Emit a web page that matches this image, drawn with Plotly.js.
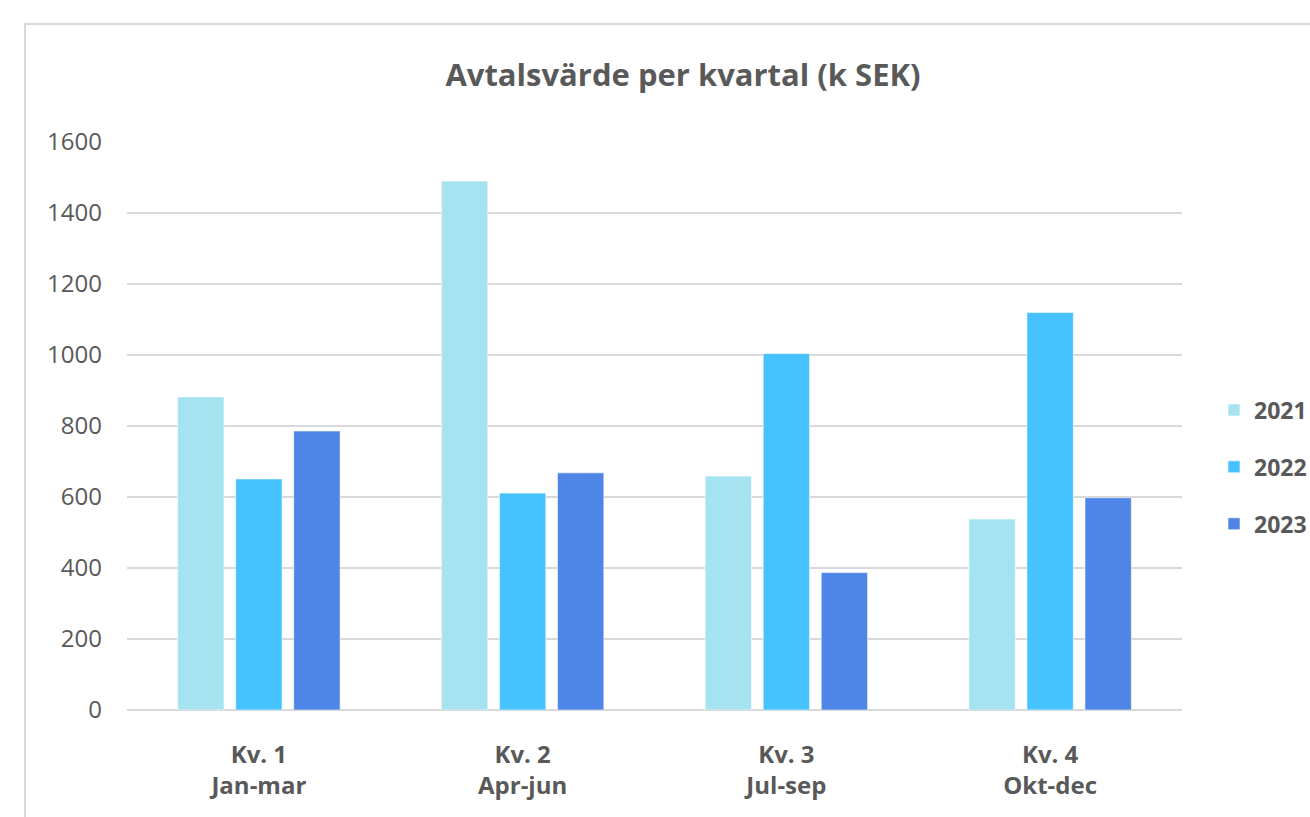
<!DOCTYPE html>
<html>
<head>
<meta charset="utf-8">
<script src="https://cdn.plot.ly/plotly-3.0.1.min.js"></script>
<style>html,body{margin:0;padding:0;background:#fff;}#chart{width:1310px;height:817px;}</style>
</head>
<body>
<div id="chart"></div>
<script>
const categories = ["Kv. 1<br>Jan-mar", "Kv. 2<br>Apr-jun", "Kv. 3<br>Jul-sep", "Kv. 4<br>Okt-dec"];
const seriesNames = ["2021", "2022", "2023"];
const values2021 = [882, 1490, 659, 538];
const values2022 = [651, 611, 1004, 1120];
const values2023 = [786, 668, 387, 598];
const yTicks = [0, 200, 400, 600, 800, 1000, 1200, 1400, 1600];

const colors = ["#a6e3f1", "#46c2ff", "#4f85e6"];
const FONT = "'Open Sans', sans-serif";
const allValues = [values2021, values2022, values2023];

const traces = allValues.map((vals, i) => ({
  type: "bar",
  name: seriesNames[i],
  x: categories,
  y: vals,
  legendgroup: "g" + i,
  marker: { color: colors[i], line: { color: "rgba(255,255,255,0.6)", width: 1 } },
  hoverinfo: "x+y+name"
}));

const layout = {
  width: 1310,
  height: 817,
  paper_bgcolor: "#ffffff",
  plot_bgcolor: "#ffffff",
  margin: { l: 127, r: 128, t: 142, b: 107, autoexpand: false },
  barmode: "group",
  bargap: 0.34,
  bargroupgap: 0.2,
  title: {
    text: "<b>Avtalsvärde per kvartal (k SEK)</b>",
    font: { family: FONT, size: 31, color: "#595959" },
    x: 0.5 + (683 - 655) / 1310, xref: "container", xanchor: "center",
    y: 1 - 75 / 817, yref: "container", yanchor: "middle"
  },
  xaxis: {
    tickfont: { family: FONT, size: 24, color: "#595959", weight: "bold" },
    showgrid: false,
    showline: false,
    zeroline: false,
    ticks: "",
    ticklabelstandoff: 28
  },
  yaxis: {
    range: [0, 1600],
    tickvals: yTicks,
    ticktext: yTicks.map(String),
    tickfont: { family: FONT, size: 24, color: "#595959" },
    showgrid: true,
    gridcolor: "#d9d9d9",
    gridwidth: 2,
    zeroline: true,
    zerolinecolor: "#d9d9d9",
    zerolinewidth: 2,
    showline: false,
    ticks: "",
    ticklabelstandoff: 24
  },
  showlegend: true,
  legend: {
    x: (1214 - 127) / 1055, xanchor: "left",
    y: (710 - 467) / 568, yanchor: "middle",
    font: { family: FONT, size: 23, color: "#595959", weight: "bold" },
    tracegroupgap: 24,
    itemwidth: 30
  },
  shapes: [{
    type: "rect", xref: "paper", yref: "paper",
    x0: (25 - 127) / 1055, x1: 1.4,
    y0: -0.4, y1: (710 - 24) / 568,
    line: { color: "#d9d9d9", width: 2 },
    fillcolor: "rgba(0,0,0,0)",
    layer: "below"
  }]
};

Plotly.newPlot("chart", traces, layout, { displayModeBar: false, staticPlot: true });
</script>
</body>
</html>
